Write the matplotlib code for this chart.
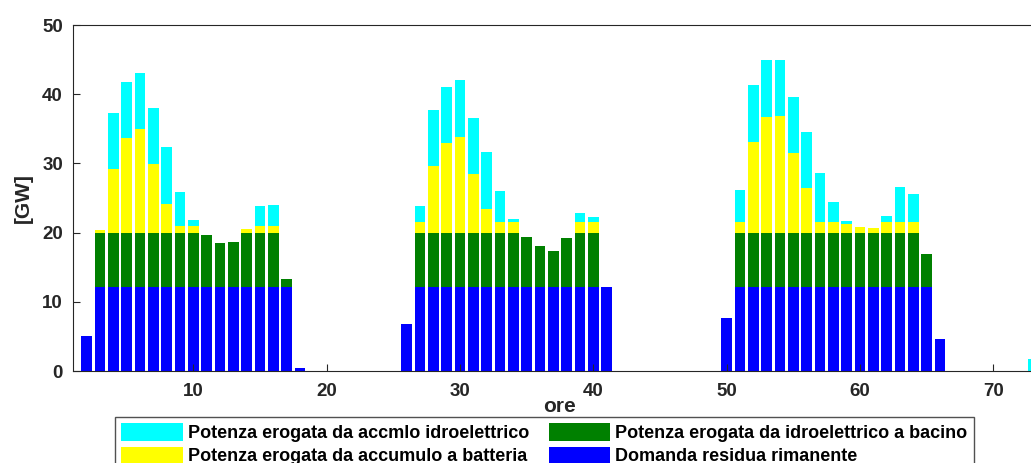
import numpy as np
import matplotlib.pyplot as plt

plt.rcParams['font.family'] = ['Liberation Sans', 'DejaVu Sans']
plt.rcParams['font.weight'] = 'bold'

ore = np.arange(1, 74)

# domanda residua (GW)
domanda = [0, 5.0] + [12.2] * 15 + [0.5] + [0] * 7 + \
    [6.8] + [12.2] * 15 + [0] * 8 + \
    [7.6] + [12.2] * 15 + [4.6] + [0] * 7

# idroelettrico a bacino (GW)
bacino = [0, 0] + [7.8] * 8 + [7.5, 6.3, 6.5, 7.8, 7.8, 7.8, 1.1, 0] + [0] * 7 + \
    [0] + [7.8] * 8 + [7.2, 5.8, 5.1, 7.0, 7.8, 7.8, 0] + [0] * 8 + \
    [0] + [7.8] * 14 + [4.7, 0] + [0] * 7

# accumulo a batteria (GW)
batteria = [0, 0, 0.4, 9.2, 13.6, 15.0, 9.9, 4.1, 1.0, 1.0, 0, 0, 0, 0.5, 1.0, 1.0, 0, 0] + [0] * 7 + \
    [0, 1.6, 9.6, 13.0, 13.8, 8.4, 3.4, 1.6, 1.6, 0, 0, 0, 0, 1.6, 1.6, 0] + [0] * 8 + \
    [0, 1.6, 13.1, 16.7, 16.9, 11.5, 6.4, 1.6, 1.6, 1.3, 0.8, 0.7, 1.6, 1.6, 1.6, 0, 0] + [0] * 7

# accumulo idroelettrico (GW)
accumulo = [0, 0, 0, 8.1, 8.2, 8.1, 8.1, 8.2, 4.9, 0.85, 0, 0, 0, 0, 2.9, 3.0, 0, 0] + [0] * 7 + \
    [0, 2.3, 8.1, 8.1, 8.2, 8.2, 8.2, 4.4, 0.3, 0, 0, 0, 0, 1.2, 0.6, 0] + [0] * 8 + \
    [0, 4.5, 8.2, 8.2, 8.1, 8.1, 8.2, 7.0, 2.8, 0.4, 0, 0, 0.8, 5.0, 4.0, 0, 0] + [0] * 6 + [1.8]

domanda = np.array(domanda)
bacino = np.array(bacino)
batteria = np.array(batteria)
accumulo = np.array(accumulo)

fig = plt.figure(figsize=(10.31, 4.63), dpi=100)
ax = fig.add_axes([0.0711, 0.1987, 0.957, 0.7473])

w = 0.8
ax.bar(ore, domanda, w, color='#0000ff', edgecolor='none', label='Domanda residua rimanente')
ax.bar(ore, bacino, w, bottom=domanda, color='#008000', edgecolor='none',
       label='Potenza erogata da idroelettrico a bacino')
b2 = domanda + bacino
ax.bar(ore, batteria, w, bottom=b2, color='#ffff00', edgecolor='none',
       label='Potenza erogata da accumulo a batteria')
b3 = b2 + batteria
ax.bar(ore, accumulo, w, bottom=b3, color='#00ffff', edgecolor='none',
       label='Potenza erogata da accmlo idroelettrico')

ax.set_xlim(1, 75)
ax.set_ylim(0, 50)
ax.set_xticks(np.arange(10, 80, 10))
ax.set_yticks(np.arange(0, 60, 10))
ax.tick_params(direction='in', length=5, width=0.8, colors='#262626', labelsize=13.5)
ax.tick_params(axis='x', pad=8.5)
ax.tick_params(axis='y', pad=7.5)
for lab in ax.get_xticklabels() + ax.get_yticklabels():
    lab.set_fontweight('bold')
for s in ax.spines.values():
    s.set_color('#262626')
    s.set_linewidth(0.8)

ax.set_ylabel('[GW]', fontsize=15, fontweight='bold', color='#262626')
ax.yaxis.set_label_coords(-0.041, 0.5)
ax.set_xlabel('ore', fontsize=15, fontweight='bold', color='#262626', va='baseline')
ax.xaxis.set_label_coords(0.493, -0.1185)

h, l = ax.get_legend_handles_labels()
order = [3, 2, 1, 0]
ax.legend([h[i] for i in order], [l[i] for i in order], ncol=2,
          loc='upper left', bbox_to_anchor=(0.0423, -0.133), borderaxespad=0,
          prop={'size': 13, 'weight': 'bold'}, frameon=True, fancybox=False,
          edgecolor='#262626', handlelength=3.4, handleheight=1.1,
          columnspacing=1.1, handletextpad=0.28, borderpad=0.35, labelspacing=0.25)

fig.savefig('out.png', dpi=100)
